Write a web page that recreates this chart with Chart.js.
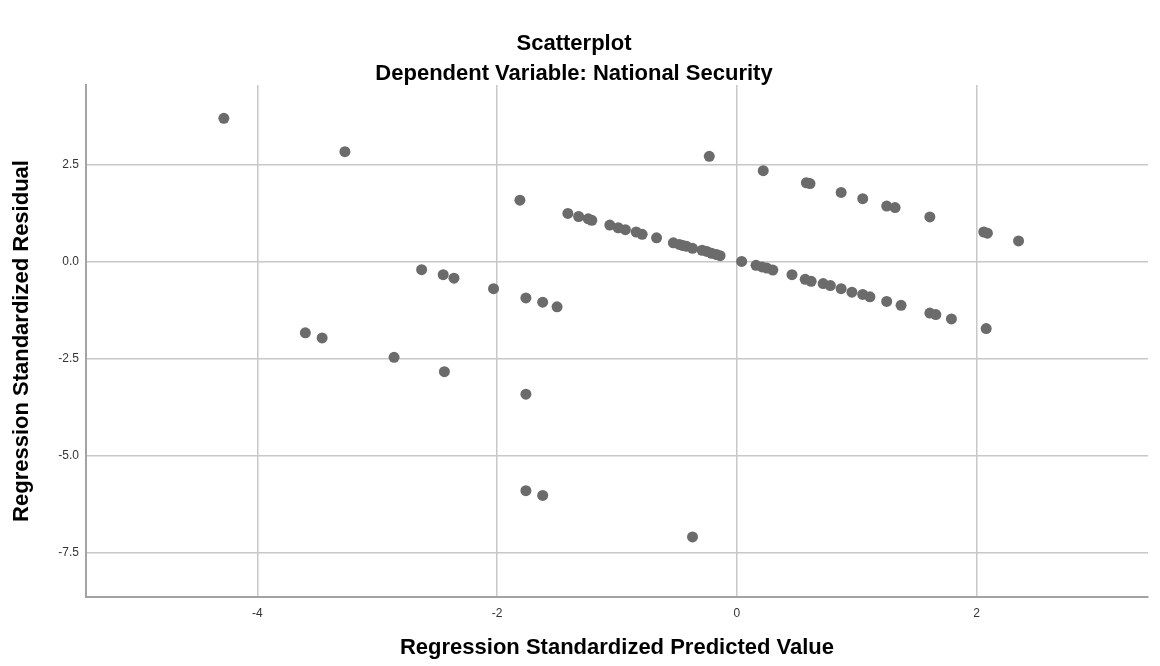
<!DOCTYPE html>
<html>
<head>
<meta charset="utf-8">
<script src="https://cdn.jsdelivr.net/npm/chart.js@4.4.1/dist/chart.umd.min.js"></script>
<style>
    html, body { margin: 0; padding: 0; background: #ffffff; }
    #contenedor { width: 1160px; height: 666px; }
</style>
</head>
<body>
<div id="contenedor"><canvas id="grafico"></canvas></div>
<script>
const predicted = [
    -4.28, -3.27, -1.81, -2.63, -2.45, -2.36, -2.03, -1.76, -1.62, -1.50,
    -3.60, -3.46, -2.86, -2.44, -1.76, -1.76, -1.62, -0.37,
    -0.23, 0.22, 0.58, 0.61, 0.87, 1.05, 1.25, 1.32, 1.61, 2.06, 2.09, 2.35,
    -1.41, -1.32, -1.24, -1.21, -1.06, -0.99, -0.93, -0.84, -0.79, -0.67,
    -0.53, -0.48, -0.45, -0.42, -0.37, -0.29, -0.25, -0.21, -0.17, -0.14,
    0.04, 0.16, 0.21, 0.25, 0.30, 0.46, 0.57, 0.62, 0.72, 0.78,
    0.87, 0.96, 1.05, 1.11, 1.25, 1.37, 1.61, 1.66, 1.79, 2.08
];
const residual = [
    3.69, 2.83, 1.58, -0.21, -0.34, -0.43, -0.70, -0.94, -1.05, -1.17,
    -1.84, -1.97, -2.47, -2.84, -3.42, -5.91, -6.03, -7.10,
    2.71, 2.34, 2.03, 2.01, 1.78, 1.62, 1.43, 1.39, 1.15, 0.76, 0.73, 0.53,
    1.24, 1.16, 1.10, 1.06, 0.94, 0.87, 0.82, 0.76, 0.70, 0.61,
    0.48, 0.44, 0.41, 0.39, 0.34, 0.29, 0.26, 0.21, 0.18, 0.15,
    0.00, -0.10, -0.14, -0.17, -0.22, -0.34, -0.46, -0.51, -0.57, -0.62,
    -0.70, -0.79, -0.85, -0.91, -1.03, -1.13, -1.33, -1.37, -1.48, -1.73
];
const xTicks = [-4, -2, 0, 2];
const yTicks = [-7.5, -5.0, -2.5, 0.0, 2.5];

const puntos = predicted.map((x, i) => ({ x: x, y: residual[i] }));
const fuente = "'Liberation Sans', Arial, sans-serif";

new Chart(document.getElementById('grafico').getContext('2d'), {
    type: 'scatter',
    data: {
        datasets: [{
            data: puntos,
            backgroundColor: '#6b6b6b',
            borderWidth: 0,
            pointRadius: 5.5,
            pointHoverRadius: 5.5
        }]
    },
    options: {
        responsive: true,
        maintainAspectRatio: false,
        animation: false,
        layout: { padding: { left: 0, right: 12, top: 0, bottom: 0 } },
        plugins: {
            legend: { display: false },
            tooltip: { enabled: false },
            title: {
                display: true,
                text: 'Scatterplot',
                color: '#000000',
                font: { family: fuente, size: 22, weight: 'bold' },
                padding: { top: 30.5, bottom: 4 }
            },
            subtitle: {
                display: true,
                text: 'Dependent Variable: National Security',
                color: '#000000',
                font: { family: fuente, size: 22, weight: 'bold' },
                padding: { top: 0, bottom: -2.3 }
            }
        },
        scales: {
            x: {
                type: 'linear',
                min: -5.43,
                max: 3.43,
                afterFit: s => { s.height = 69; },
                afterBuildTicks: s => { s.ticks = xTicks.map(v => ({ value: v })); },
                ticks: {
                    color: '#333333',
                    padding: 9,
                    font: { family: fuente, size: 12 },
                    callback: v => String(v)
                },
                grid: { color: '#c8c8c8', lineWidth: 1.5, drawTicks: false },
                border: { display: true, color: '#a3a3a3', width: 2 },
                title: {
                    display: true,
                    text: 'Regression Standardized Predicted Value',
                    color: '#000000',
                    font: { family: fuente, size: 22, weight: 'bold' },
                    padding: { top: 0, bottom: 4.8 }
                }
            },
            y: {
                type: 'linear',
                min: -8.65,
                max: 4.55,
                afterFit: s => { s.width = 86; },
                afterBuildTicks: s => { s.ticks = yTicks.map(v => ({ value: v })); },
                ticks: {
                    color: '#333333',
                    padding: 7,
                    font: { family: fuente, size: 12 },
                    callback: v => v.toFixed(1)
                },
                grid: { color: '#c8c8c8', lineWidth: 1.5, drawTicks: false },
                border: { display: true, color: '#a3a3a3', width: 2 },
                title: {
                    display: true,
                    text: 'Regression Standardized Residual',
                    color: '#000000',
                    font: { family: fuente, size: 22, weight: 'bold' },
                    padding: { top: 8.8, bottom: 0 }
                }
            }
        }
    }
});
</script>
</body>
</html>
